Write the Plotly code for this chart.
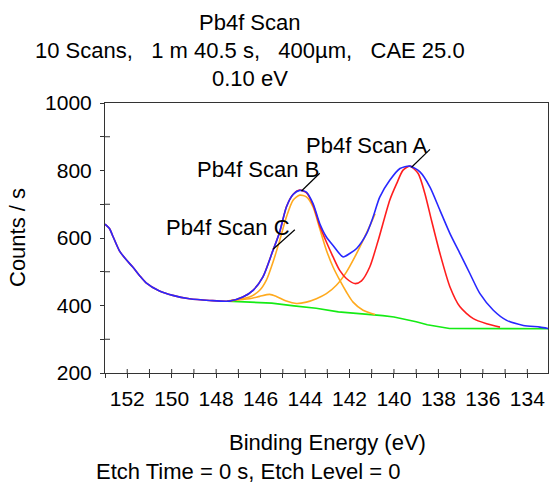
import plotly.graph_objects as go

# ---------------- data ----------------
env_x = [153.0, 152.8, 152.65, 152.35, 152.05, 151.75, 151.45, 151.15, 150.55, 149.95, 149.2, 148.3, 147.4,
         146.8, 146.34, 145.9, 145.44, 145.14, 144.84, 144.54, 144.24, 143.94, 143.64, 143.34,
         143.04, 142.74, 142.29, 141.99, 141.68, 141.23, 140.94, 140.64, 140.19, 139.73, 139.28,
         138.83, 138.38, 137.93, 137.48, 137.03, 136.58, 136.13, 135.53, 134.93, 134.18, 133.43, 133.07]
env_y = [641, 628, 606, 562, 536, 514, 489, 467, 443, 430, 420, 415, 413,
         425, 445, 484, 564, 618, 692, 729, 741, 736, 702, 643,
         603, 578, 544, 554, 569, 613, 662, 721, 771, 806, 813,
         796, 751, 682, 613, 554, 494, 435, 386, 356, 341, 336, 332]

red_x = [153.0, 152.8, 152.65, 152.35, 152.05, 151.75, 151.45, 151.15, 150.55, 149.95, 149.2, 148.3, 147.4,
         146.8, 146.34, 145.9, 145.44, 145.14, 144.84, 144.54, 144.24, 143.94, 143.64, 143.34,
         143.04, 142.74, 142.44, 142.14, 141.76, 141.46, 141.09, 140.7, 140.19, 139.88, 139.59,
         139.28, 138.91, 138.61, 138.31, 137.93, 137.48, 137.03, 136.43, 135.83, 135.23]
red_y = [641, 628, 606, 562, 536, 514, 489, 467, 443, 430, 420, 415, 413,
         425, 445, 484, 564, 618, 692, 729, 742, 734, 698, 636,
         588, 544, 504, 480, 465, 473, 514, 595, 712, 761, 801,
         813, 791, 732, 652, 554, 455, 396, 361, 346, 336]

peakB_x = [147.4, 146.5, 146.04, 145.74, 145.44, 145.14, 144.84, 144.54, 144.24, 143.94, 143.64,
           143.34, 143.04, 142.74, 142.44, 142.14, 141.84, 141.39, 140.85]
peakB_y = [413, 425, 445, 475, 529, 593, 662, 712, 727, 722, 692,
           628, 564, 514, 475, 440, 410, 386, 373]

peakCA_x = [147.4, 146.5, 146.04, 145.59, 145.29, 144.84, 144.39, 143.94, 143.49, 143.04, 142.59,
            142.14, 141.76, 141.39, 141.01, 140.85]
peakCA_y = [415, 420, 427, 433, 427, 413, 406, 410, 420, 435, 460,
            499, 544, 593, 647, 672]

bg_x = [147.5, 146.5, 145.5, 144.5, 143.5, 142.5, 141.5, 140.5, 140.0, 139.5, 139.0, 138.5, 138.0,
        137.5, 133.07]
bg_y = [413, 411, 407, 399, 392, 381, 376, 370, 366, 360, 352, 343, 337, 332, 331]

peak_labels = ["Pb4f Scan A", "Pb4f Scan B", "Pb4f Scan C"]

title_lines = ["Pb4f Scan",
               "10 Scans,\u00a0\u00a0\u00a01 m 40.5 s,\u00a0\u00a0\u00a0400\u00b5m,\u00a0\u00a0\u00a0CAE 25.0",
               "0.10 eV"]
x_title = "Binding Energy (eV)"
y_title = "Counts / s"
footer = "Etch Time = 0 s, Etch Level = 0"

# ---------------- layout geometry ----------------
W, H = 550, 483
ML, MR, MT, MB = 105, 2, 103, 110
PW, PH = W - ML - MR, H - MT - MB
XR = [153.0, 133.07]
YR = [200, 1000]
FONT = "Liberation Sans, Arial, sans-serif"


def px(xp):
    return (xp - ML) / PW


def py(yp):
    return (H - MB - yp) / PH


fig = go.Figure()
line_w = 1.6
smooth = dict(shape="spline", smoothing=0.7)
fig.add_trace(go.Scatter(x=bg_x, y=bg_y, mode="lines", line=dict(color="rgb(20,235,20)", width=line_w)))
fig.add_trace(go.Scatter(x=peakCA_x, y=peakCA_y, mode="lines",
                         line=dict(color="rgb(255,170,30)", width=line_w, **smooth)))
fig.add_trace(go.Scatter(x=peakB_x, y=peakB_y, mode="lines",
                         line=dict(color="rgb(255,170,30)", width=line_w, **smooth)))
fig.add_trace(go.Scatter(x=red_x, y=red_y, mode="lines",
                         line=dict(color="rgb(255,30,30)", width=line_w, **smooth)))
fig.add_trace(go.Scatter(x=env_x, y=env_y, mode="lines",
                         line=dict(color="rgb(40,40,255)", width=line_w, **smooth)))

axis_col = "#333333"
fig.update_layout(
    width=W, height=H,
    margin=dict(l=ML, r=MR, t=MT, b=MB, pad=0),
    paper_bgcolor="white", plot_bgcolor="white",
    showlegend=False,
    font=dict(family=FONT, size=21, color="black"),
    xaxis=dict(range=XR, showgrid=False, zeroline=False, showline=True, linecolor=axis_col, linewidth=1,
               mirror=True, ticks="outside", ticklen=4, tickcolor=axis_col, tick0=0, dtick=2,
               ticklabelstandoff=3,
               minor=dict(dtick=1, tick0=0, ticks="outside", ticklen=4, tickcolor=axis_col),
               tickfont=dict(family=FONT, size=21, color="black")),
    yaxis=dict(range=YR, showgrid=False, zeroline=False, showline=True, linecolor=axis_col, linewidth=1,
               mirror=True, ticks="outside", ticklen=4, tickcolor=axis_col, tick0=0, dtick=200,
               ticklabelstandoff=4,
               minor=dict(dtick=100, tick0=0, ticks="outside", ticklen=4, tickcolor=axis_col),
               tickfont=dict(family=FONT, size=21, color="black")),
)

# inward halves of the crossing tick marks (every 1 eV on x, odd hundreds on y)
for v in range(134, 153):
    fig.add_shape(type="line", xref="x", yref="paper", x0=v, x1=v, y0=0, y1=4 / PH,
                  line=dict(color=axis_col, width=1))
for v in range(300, 1000, 200):
    fig.add_shape(type="line", xref="paper", yref="y", x0=0, x1=5 / PW, y0=v, y1=v,
                  line=dict(color=axis_col, width=1))

ann = []
for txt, yy in zip(title_lines, [22.5, 51, 78]):
    ann.append(dict(text=txt, x=px(250), y=py(yy), xref="paper", yref="paper", showarrow=False,
                    xanchor="center", yanchor="middle", font=dict(size=22)))
ann.append(dict(text=x_title, x=px(327), y=py(442), xref="paper", yref="paper", showarrow=False,
                xanchor="center", yanchor="middle", font=dict(size=22)))
ann.append(dict(text=footer, x=px(248), y=py(471), xref="paper", yref="paper", showarrow=False,
                xanchor="center", yanchor="middle", font=dict(size=22)))
ann.append(dict(text=y_title, x=px(17), y=py(238), xref="paper", yref="paper", showarrow=False,
                textangle=-90, xanchor="center", yanchor="middle", font=dict(size=22)))

# peak labels with leader lines (text anchor, line start, line end in data coords)
label_pos = [(138.43, 874.7), (143.29, 802.0), (144.58, 632.6)]
leader = [((138.38, 862.8), (139.21, 809.5)),
          ((143.34, 791.7), (144.16, 739.3)),
          ((144.46, 624.3), (145.44, 566.5))]
for txt, (lx, ly), ((x0, y0), (x1, y1)) in zip(peak_labels, label_pos, leader):
    ann.append(dict(text=txt, x=lx, y=ly, xref="x", yref="y", showarrow=False,
                    xanchor="right", yanchor="middle", font=dict(size=22)))
    fig.add_shape(type="line", x0=x0, y0=y0, x1=x1, y1=y1, xref="x", yref="y",
                  line=dict(color="black", width=1.2))

fig.update_layout(annotations=ann)
fig.write_html("out.html")
